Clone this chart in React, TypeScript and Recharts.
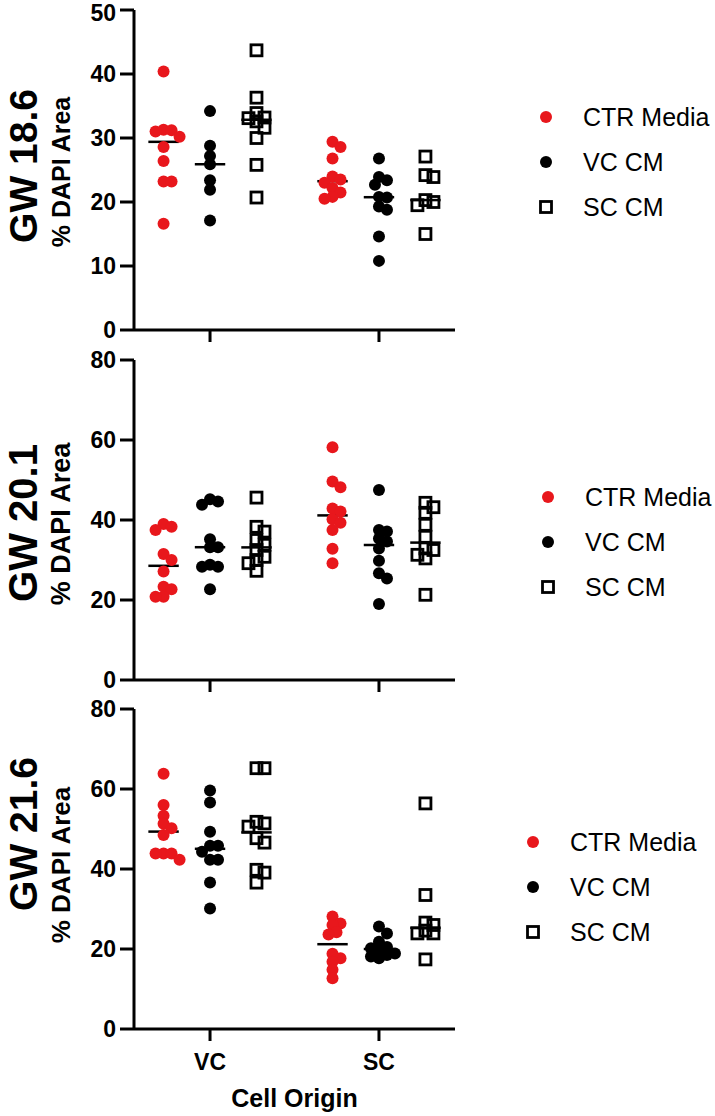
import React from 'react';
import { Legend, ReferenceLine, Scatter, ScatterChart, XAxis, YAxis } from 'recharts';

const categories = ['VC', 'SC'];
const seriesNames = ['CTR Media', 'VC CM', 'SC CM'];
const titles = ['GW 18.6', 'GW 20.1', 'GW 21.6'];
const yTicks50 = [0, 10, 20, 30, 40, 50];
const yTicks80 = [0, 20, 40, 60, 80];

// GW 18.6
const p1CtrVC = [40.4, 31.3, 31.2, 31.0, 30.2, 28.6, 26.4, 23.2, 23.2, 16.6];
const p1VcVC = [34.2, 28.8, 27.2, 25.9, 23.4, 21.9, 17.1];
const p1ScVC = [43.7, 36.3, 33.9, 33.2, 33.1, 32.6, 31.6, 30.0, 25.8, 20.7];
const p1CtrSC = [29.4, 28.6, 26.8, 24.0, 23.5, 23.0, 22.2, 21.5, 20.8, 20.5];
const p1VcSC = [26.8, 23.9, 23.4, 22.7, 20.8, 20.7, 19.3, 18.8, 14.6, 10.8];
const p1ScSC = [27.1, 24.2, 23.9, 20.3, 20.0, 19.5, 15.0];

// GW 20.1
const p2CtrVC = [39.0, 38.3, 37.5, 31.5, 30.0, 27.1, 23.3, 22.7, 20.8, 20.8];
const p2VcVC = [45.2, 44.6, 43.8, 35.2, 33.2, 33.2, 28.8, 28.3, 28.3, 22.7];
const p2ScVC = [45.6, 38.3, 37.1, 35.0, 33.8, 32.5, 30.8, 30.0, 29.2, 27.3];
const p2CtrSC = [58.2, 49.6, 48.2, 42.9, 42.1, 40.2, 39.3, 37.5, 32.8, 29.2];
const p2VcSC = [47.5, 37.5, 37.1, 35.4, 34.6, 32.9, 29.8, 26.7, 25.4, 19.0];
const p2ScSC = [44.3, 43.2, 41.8, 38.8, 35.8, 32.9, 32.5, 31.3, 30.4, 21.3];

// GW 21.6
const p3CtrVC = [63.8, 56.0, 53.3, 51.3, 50.2, 48.5, 43.9, 43.9, 43.9, 42.3];
const p3VcVC = [59.6, 56.6, 49.3, 45.8, 45.8, 44.3, 42.3, 42.3, 36.6, 30.1];
const p3ScVC = [65.2, 65.2, 51.8, 51.4, 50.6, 47.7, 46.6, 39.8, 39.1, 36.6];
const p3CtrSC = [28.1, 26.4, 26.0, 24.2, 23.6, 18.8, 17.7, 16.8, 14.8, 12.7];
const p3VcSC = [25.6, 23.9, 21.8, 20.5, 20.2, 19.8, 18.9, 18.5, 18.1, 17.7];
const p3ScSC = [56.4, 33.5, 26.6, 26.0, 24.6, 23.9, 23.9, 17.4];

const FONT = 'Arial, "Liberation Sans", Helvetica, sans-serif';
const RED = '#e8171c';
const X_DOMAIN: [number, number] = [-0.45, 1.45];
const PLOT_W = 321;
const PLOT_H = 320;
const GROUP_OFFSET = 0.275;
const PX_PER_X = PLOT_W / (X_DOMAIN[1] - X_DOMAIN[0]);

function median(values: number[]) {
  const s = [...values].sort((a, b) => a - b);
  const m = Math.floor(s.length / 2);
  return s.length % 2 ? s[m] : (s[m - 1] + s[m]) / 2;
}

// small beeswarm: overlapping points are nudged sideways, but only a little (they may still overlap)
function swarm(values: number[], center: number, pxPerY: number) {
  const placed: { x: number; y: number }[] = [];
  const out: { x: number; y: number }[] = new Array(values.length);
  const order = values.map((v, i) => ({ v, i })).sort((a, b) => b.v - a.v);
  for (const { v, i } of order) {
    const py = v * pxPerY;
    let best = 0;
    let bestGap = -1;
    for (let k = 0; k < 9; k++) {
      const cand = k === 0 ? 0 : (k % 2 ? 1 : -1) * Math.ceil(k / 2) * 4;
      const gap = placed.length ? Math.min(...placed.map((p) => Math.hypot(p.x - cand, p.y - py))) : 99;
      if (gap >= 8) {
        best = cand;
        bestGap = gap;
        break;
      }
      if (gap > bestGap) {
        bestGap = gap;
        best = cand;
      }
    }
    placed.push({ x: best, y: py });
    out[i] = { x: center + best / PX_PER_X, y: v };
  }
  return out;
}

const redDot = (p: any) => <circle cx={p.cx} cy={p.cy} r={6} fill={RED} />;
const blackDot = (p: any) => <circle cx={p.cx} cy={p.cy} r={6} fill="#000" />;
const square = (p: any) => (
  <rect x={p.cx - 5.5} y={p.cy - 5.5} width={11} height={11} fill="none" stroke="#000" strokeWidth={2.8} />
);
const shapes = [redDot, blackDot, square];

function LegendBox() {
  return (
    <div style={{ fontFamily: FONT, fontSize: 25, color: '#000' }}>
      {seriesNames.map((name, i) => (
        <div key={name} style={{ display: 'flex', alignItems: 'center', height: 45 }}>
          <svg width={16} height={16}>
            {i === 0 && <circle cx={8} cy={8} r={6} fill={RED} />}
            {i === 1 && <circle cx={8} cy={8} r={6} fill="#000" />}
            {i === 2 && <rect x={2.5} y={2.5} width={11} height={11} fill="none" stroke="#000" strokeWidth={2.8} />}
          </svg>
          <span style={{ marginLeft: 29, whiteSpace: 'nowrap' }}>{name}</span>
        </div>
      ))}
    </div>
  );
}

function YLabels({ viewBox, title, titleSize, titleDy, labelSize, labelDy }: any) {
  const cy = viewBox.y + viewBox.height / 2;
  return (
    <g fontFamily={FONT} fontWeight={700} fill="#000">
      <text x={23} y={cy + titleDy} transform={`rotate(-90, 23, ${cy + titleDy})`} textAnchor="middle" dominantBaseline="central" fontSize={titleSize}>
        {title}
      </text>
      <text x={61} y={cy + labelDy} transform={`rotate(-90, 61, ${cy + labelDy})`} textAnchor="middle" dominantBaseline="central" fontSize={labelSize}>
        % DAPI Area
      </text>
    </g>
  );
}

function XLabel({ viewBox }: any) {
  return (
    <text x={viewBox.x + viewBox.width / 2} y={viewBox.y + 78} textAnchor="middle" fontFamily={FONT} fontWeight={700} fontSize={25} fill="#000">
      Cell Origin
    </text>
  );
}

interface PanelProps {
  title: string;
  yMax: number;
  yTicks: number[];
  vc: number[][];
  sc: number[][];
  height: number;
  top: number;
  xHeight: number;
  showX: boolean;
  legend: { left: number; top: number };
  titleSize: number;
  titleDy: number;
  labelSize: number;
  labelDy: number;
}

function Panel(props: PanelProps) {
  const pxPerY = PLOT_H / props.yMax;
  const groups = [props.vc, props.sc];
  const axisTick = { fill: '#000', fontSize: 23, fontWeight: 700, fontFamily: FONT };
  return (
    <ScatterChart width={715} height={props.height} margin={{ top: props.top, right: 260, bottom: 0, left: 0 }}>
      <XAxis
        type="number"
        dataKey="x"
        domain={X_DOMAIN}
        ticks={[0, 1]}
        tickFormatter={(v: number) => (props.showX ? categories[v] : '')}
        height={props.xHeight}
        axisLine={{ stroke: '#000', strokeWidth: 3 }}
        tickLine={{ stroke: '#000', strokeWidth: 3 }}
        tickSize={12}
        tickMargin={13}
        tick={axisTick}
        label={props.showX ? <XLabel /> : undefined}
      />
      <YAxis
        type="number"
        dataKey="y"
        domain={[0, props.yMax]}
        ticks={props.yTicks}
        width={134}
        axisLine={{ stroke: '#000', strokeWidth: 3 }}
        tickLine={{ stroke: '#000', strokeWidth: 3 }}
        tickSize={14}
        tickMargin={4}
        tick={axisTick}
        label={
          <YLabels
            title={props.title}
            titleSize={props.titleSize}
            titleDy={props.titleDy}
            labelSize={props.labelSize}
            labelDy={props.labelDy}
          />
        }
      />
      {groups.map((grp, gi) =>
        grp.map((values, si) => (
          <Scatter
            key={`s${gi}-${si}`}
            name={seriesNames[si]}
            data={swarm(values, gi + (si - 1) * GROUP_OFFSET, pxPerY)}
            shape={shapes[si]}
            isAnimationActive={false}
          />
        ))
      )}
      {groups.map((grp, gi) =>
        grp.map((values, si) => {
          const c = gi + (si - 1) * GROUP_OFFSET;
          const m = median(values);
          return (
            <ReferenceLine
              key={`m${gi}-${si}`}
              segment={[
                { x: c - 0.09, y: m },
                { x: c + 0.09, y: m },
              ]}
              stroke="#000"
              strokeWidth={2.5}
            />
          );
        })
      )}
      <Legend
        layout="horizontal"
        verticalAlign="middle"
        align="center"
        wrapperStyle={{ left: props.legend.left, top: props.legend.top, width: 'auto' }}
        content={() => <LegendBox />}
      />
    </ScatterChart>
  );
}

export default function App() {
  return (
    <div style={{ position: 'absolute', left: 0, top: 0, width: 715, height: 1116, background: '#fff' }}>
      <Panel
        title={titles[0]}
        yMax={50}
        yTicks={yTicks50}
        vc={[p1CtrVC, p1VcVC, p1ScVC]}
        sc={[p1CtrSC, p1VcSC, p1ScSC]}
        height={345}
        top={10}
        xHeight={15}
        showX={false}
        legend={{ left: 538, top: 94.5 }}
        titleSize={39}
        titleDy={-4}
        labelSize={25}
        labelDy={2}
      />
      <Panel
        title={titles[1]}
        yMax={80}
        yTicks={yTicks80}
        vc={[p2CtrVC, p2VcVC, p2ScVC]}
        sc={[p2CtrSC, p2VcSC, p2ScSC]}
        height={350}
        top={15}
        xHeight={15}
        showX={false}
        legend={{ left: 540, top: 129.5 }}
        titleSize={40}
        titleDy={3}
        labelSize={27}
        labelDy={4}
      />
      <Panel
        title={titles[2]}
        yMax={80}
        yTicks={yTicks80}
        vc={[p3CtrVC, p3VcVC, p3ScVC]}
        sc={[p3CtrSC, p3VcSC, p3ScSC]}
        height={421}
        top={14}
        xHeight={87}
        showX={true}
        legend={{ left: 525, top: 124.5 }}
        titleSize={39}
        titleDy={-35}
        labelSize={26}
        labelDy={-4}
      />
    </div>
  );
}
